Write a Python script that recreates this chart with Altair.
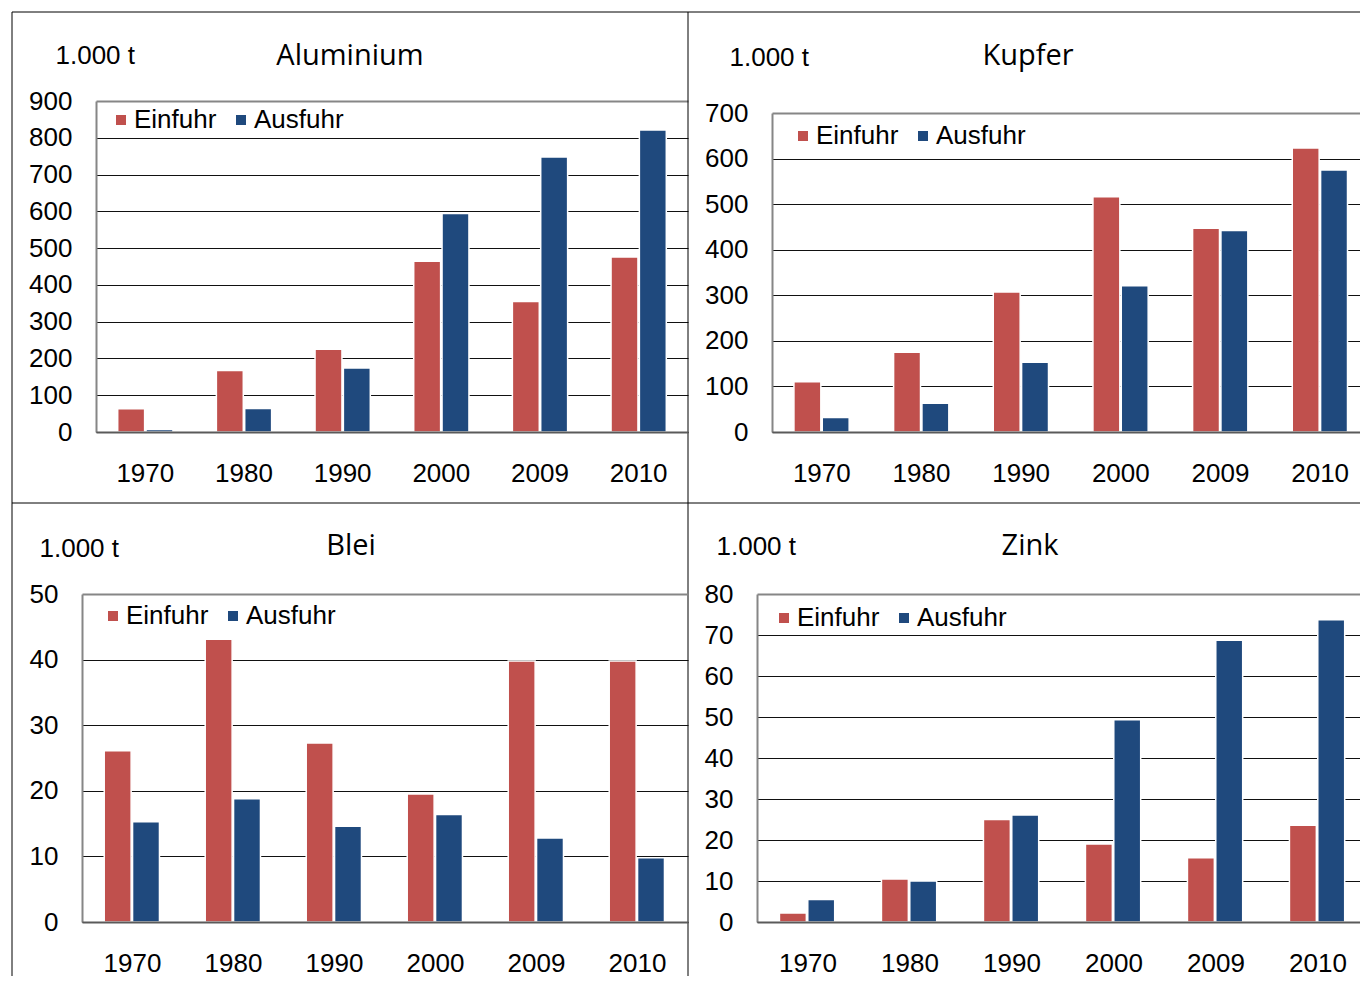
import altair as alt
import pandas as pd

years = ["1970", "1980", "1990", "2000", "2009", "2010"]
series = ["Einfuhr", "Ausfuhr"]

alu_ein = [63, 167, 225, 464, 355, 476]
alu_aus = [7, 64, 174, 594, 748, 821]
kup_ein = [110, 175, 307, 516, 447, 623]
kup_aus = [32, 63, 153, 321, 442, 575]
blei_ein = [26.1, 43.1, 27.3, 19.5, 39.8, 39.8]
blei_aus = [15.3, 18.8, 14.6, 16.4, 12.8, 9.8]
zink_ein = [2.2, 10.5, 25.0, 19.0, 15.7, 23.6]
zink_aus = [5.5, 10.0, 26.1, 49.3, 68.7, 73.7]

unit_label = "1.000 t"
titles = ["Aluminium", "Kupfer", "Blei", "Zink"]

RED = "#C0504D"
BLUE = "#1F497D"
FRAME = "#868686"
GRID = "#111111"
FONT = "Liberation Sans"
TFONT = "Open Sans"


def panel(title, ein, aus, ymax, ystep, width, height, lx, ly, ux, uy, tx, ty, borders=False):
    df = pd.DataFrame({
        "Jahr": years * 2,
        "Reihe": [series[0]] * len(years) + [series[1]] * len(years),
        "Wert": ein + aus,
    })
    ticks = list(range(0, ymax + 1, ystep))
    top_test = f"datum.value >= {ymax}"
    bars = alt.Chart(df).mark_bar(stroke="white", strokeWidth=1.5).encode(
        x=alt.X("Jahr:N", sort=years,
                scale=alt.Scale(paddingInner=0.44, paddingOuter=0.22),
                axis=alt.Axis(title=None, labelAngle=0, ticks=False, labelPadding=28,
                              domainColor="#5a5a5a", domainWidth=2, zindex=1, grid=False)),
        xOffset=alt.XOffset("Reihe:N", sort=series,
                            scale=alt.Scale(paddingInner=0.05, paddingOuter=0)),
        y=alt.Y("Wert:Q", scale=alt.Scale(domain=[0, ymax], nice=False),
                axis=alt.Axis(values=ticks, ticks=False, labelPadding=24,
                              domainColor=FRAME, domainWidth=2,
                              grid=True,
                              gridColor={"condition": {"test": top_test, "value": FRAME}, "value": GRID},
                              gridWidth={"condition": {"test": top_test, "value": 2}, "value": 1},
                              labelFlush=False, labelOverlap=False,
                              title=unit_label, titleAngle=0, titleX=ux, titleY=uy,
                              titleAlign="left", titleBaseline="middle",
                              titleFont=FONT, titleFontSize=26, titleFontWeight="normal",
                              titleColor="black")),
        color=alt.Color("Reihe:N", sort=series,
                        scale=alt.Scale(domain=series, range=[RED, BLUE]),
                        legend=alt.Legend(orient="none", legendX=lx, legendY=ly,
                                          direction="horizontal", title=None,
                                          symbolType="square", symbolSize=100,
                                          symbolStrokeWidth=0, symbolOpacity=1,
                                          labelFont=FONT, labelFontSize=26,
                                          labelColor="black", labelOffset=0,
                                          columnPadding=11, padding=0)),
    )
    tdf = pd.DataFrame({"t": [title]})
    ttl = alt.Chart(tdf).mark_text(font=TFONT, fontSize=29, align="center",
                                   baseline="middle", color="black").encode(
        text="t:N", x=alt.value(tx), y=alt.value(ty))
    layers = []
    if borders:
        one = pd.DataFrame({"a": [0]})
        base = alt.Chart(one).mark_rule(color="black", strokeWidth=1)
        layers += [
            base.encode(x=alt.value(-84), x2=alt.value(1290), y=alt.value(-89), y2=alt.value(-89)),
            base.encode(x=alt.value(-84), x2=alt.value(-84), y=alt.value(-89), y2=alt.value(900)),
            base.encode(x=alt.value(width), x2=alt.value(width), y=alt.value(-89), y2=alt.value(900)),
            base.encode(x=alt.value(-84), x2=alt.value(1290), y=alt.value(402), y2=alt.value(402)),
        ]
    layers += [bars, ttl]
    return alt.layer(*layers).properties(width=width, height=height)


def spacer(w, h):
    return alt.Chart(pd.DataFrame({"a": [0]})).mark_point(opacity=0).encode(
        x=alt.value(0), y=alt.value(0)).properties(width=w, height=h)


p1 = panel(titles[0], alu_ein, alu_aus, 900, 100, 592, 331, 12, 6, -41, -46, 254, -45, borders=True)
p2 = panel(titles[1], kup_ein, kup_aus, 700, 100, 598, 319, 18, 10, -43, -56, 256, -57)
p3 = panel(titles[2], blei_ein, blei_aus, 50, 10, 606, 328, 18, 9, -43, -46, 269, -48)
p4 = panel(titles[3], zink_ein, zink_aus, 80, 10, 612, 328, 14, 11, -41, -48, 273, -48)

col2 = alt.vconcat(spacer(10, 12), p2, spacing=0, bounds="flush").resolve_scale(color="independent")
row1 = alt.hconcat(spacer(14, 10), p1, spacer(84, 10), col2, spacing=0,
                   bounds="flush").resolve_scale(color="independent")
row2 = alt.hconcat(p3, spacer(69, 10), p4, spacing=0,
                   bounds="flush").resolve_scale(color="independent")

# with flush bounds the nested row counts as zero height, so the gap includes its 331px
chart = alt.vconcat(row1, row2, spacing=493, bounds="flush").resolve_scale(
    color="independent"
).properties(
    autosize=alt.AutoSizeParams(type="none"),
    padding={"left": 74, "top": 93, "right": 1278, "bottom": 875},
).configure_view(stroke="transparent").configure_axis(
    labelFont=FONT, labelFontSize=26, labelColor="black"
)

chart.save("out.html", embed_options={"renderer": "svg", "actions": False})
